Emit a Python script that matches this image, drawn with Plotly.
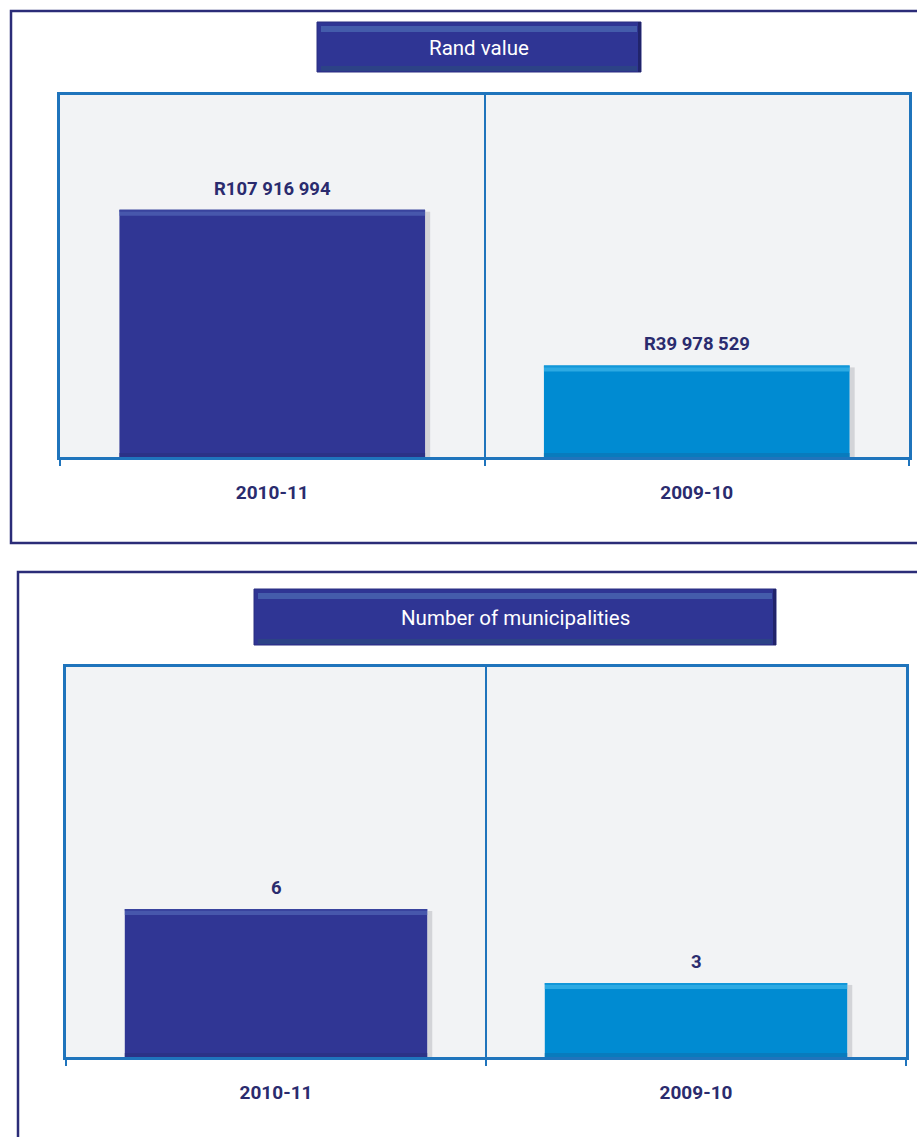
import plotly.graph_objects as go

# Data
years = ["2010-11", "2009-10"]
rand_values = [107916994, 39978529]
municipality_counts = [6, 3]
panel_titles = ["Rand value", "Number of municipalities"]
bar_colors = ["#303694", "#008bd2"]
bar_highlights = ["#4f63b4", "#3cb4e8"]
bar_lowlights = ["#2a3282", "#0a77b8"]

W, H = 917, 1137
NAVY_TEXT = "#2a2b6e"
AXIS_BLUE = "#1f74bc"
FRAME = "#2b2c78"
FONT = "Roboto, Liberation Sans, sans-serif"
BAR_WIDTH = 0.72


def fx(x):
    return x / W


def fy(y):
    return 1 - y / H


def rand_label(v):
    return "R" + f"{v:,}".replace(",", " ")


fig = go.Figure()

# per panel: axes, values, labels, plot-area box (px), y max, frame box, title plate box
panels = [
    dict(xa="x", ya="y", vals=rand_values, labels=[rand_label(v) for v in rand_values],
         area=(60, 95, 909, 457), ymax=158e6,
         frame=(11, 11, 930, 543), title=(317, 22, 641, 72)),
    dict(xa="x2", ya="y2", vals=municipality_counts, labels=[str(v) for v in municipality_counts],
         area=(66, 667, 906, 1057), ymax=15.8,
         frame=(18, 572, 930, 1150), title=(254, 589, 776, 645)),
]

shapes = []
annotations = []

for k, p in enumerate(panels):
    fig.add_trace(go.Bar(
        x=years, y=p["vals"], xaxis=p["xa"], yaxis=p["ya"],
        width=BAR_WIDTH, marker=dict(color=bar_colors, line=dict(width=0)),
        showlegend=False, hoverinfo="skip",
    ))

    x0, y0, x1, y1 = p["area"]
    plot_h = y1 - y0
    unit = p["ymax"] / plot_h  # data units per pixel

    # bevel + soft shadow on each bar
    for i, v in enumerate(p["vals"]):
        left, right = i - BAR_WIDTH / 2, i + BAR_WIDTH / 2
        shapes.append(dict(type="rect", xref=p["xa"], yref=p["ya"], layer="below",
                           x0=right, x1=right + 0.012, y0=0, y1=v - 2 * unit,
                           fillcolor="rgba(120,120,130,0.25)", line=dict(width=0)))
        shapes.append(dict(type="rect", xref=p["xa"], yref=p["ya"], layer="above",
                           x0=left, x1=right, y0=v - 6 * unit, y1=v,
                           fillcolor=bar_highlights[i], opacity=0.75, line=dict(width=0)))
        shapes.append(dict(type="rect", xref=p["xa"], yref=p["ya"], layer="above",
                           x0=left, x1=right, y0=v - 2 * unit, y1=v,
                           fillcolor=bar_colors[i], opacity=0.6, line=dict(width=0)))
        shapes.append(dict(type="rect", xref=p["xa"], yref=p["ya"], layer="above",
                           x0=left, x1=right, y0=0, y1=4 * unit,
                           fillcolor=bar_lowlights[i], opacity=0.8, line=dict(width=0)))
        annotations.append(dict(
            x=years[i], y=v, xref=p["xa"], yref=p["ya"], text=p["labels"][i],
            showarrow=False, yanchor="bottom", yshift=8,
            font=dict(family=FONT, size=18.5, color=NAVY_TEXT, weight="bold"),
        ))

    # outer frame
    fx0, fy0, fx1, fy1 = p["frame"]
    shapes.append(dict(type="rect", xref="paper", yref="paper",
                       x0=fx(fx0), x1=fx(fx1), y0=fy(fy1), y1=fy(fy0),
                       line=dict(color=FRAME, width=2.5), fillcolor="rgba(0,0,0,0)", layer="below"))

    # title plate
    tx0, ty0, tx1, ty1 = p["title"]
    shapes.append(dict(type="rect", xref="paper", yref="paper",
                       x0=fx(tx0), x1=fx(tx1), y0=fy(ty1), y1=fy(ty0),
                       fillcolor="#2f3594", line=dict(color="#2a2f80", width=1), layer="above"))
    shapes.append(dict(type="rect", xref="paper", yref="paper",
                       x0=fx(tx0 + 4), x1=fx(tx1 - 4), y0=fy(ty0 + 10), y1=fy(ty0 + 4),
                       fillcolor="#4a66b0", opacity=0.8, line=dict(width=0), layer="above"))
    shapes.append(dict(type="rect", xref="paper", yref="paper",
                       x0=fx(tx0 + 4), x1=fx(tx1 - 4), y0=fy(ty1 - 1), y1=fy(ty1 - 6),
                       fillcolor="#2c4682", opacity=0.8, line=dict(width=0), layer="above"))
    shapes.append(dict(type="rect", xref="paper", yref="paper",
                       x0=fx(tx1 - 3), x1=fx(tx1), y0=fy(ty1), y1=fy(ty0),
                       fillcolor="#1e2160", opacity=0.8, line=dict(width=0), layer="above"))
    annotations.append(dict(
        x=fx((tx0 + tx1) / 2), y=fy((ty0 + ty1) / 2 + 1), xref="paper", yref="paper",
        text=panel_titles[k], showarrow=False, xanchor="center", yanchor="middle",
        font=dict(family=FONT, size=20.5, color="white"),
    ))

    suffix = "" if k == 0 else "2"
    fig.layout["xaxis" + suffix] = dict(
        domain=[fx(x0), fx(x1)], anchor=p["ya"], type="category",
        range=[-0.5, 1.5], tickson="boundaries",
        showgrid=True, gridcolor=AXIS_BLUE, gridwidth=2,
        showline=True, linecolor=AXIS_BLUE, linewidth=2.5, mirror=True,
        ticks="outside", ticklen=6, tickwidth=2, tickcolor=AXIS_BLUE,
        ticklabelstandoff=16,
        tickfont=dict(family=FONT, size=19, color=NAVY_TEXT, weight="bold"),
        fixedrange=True,
    )
    fig.layout["yaxis" + suffix] = dict(
        domain=[fy(y1), fy(y0)], anchor=p["xa"], range=[0, p["ymax"]],
        showgrid=False, zeroline=False, showticklabels=False,
        showline=True, linecolor=AXIS_BLUE, linewidth=2.5, mirror=True,
        fixedrange=True,
    )

fig.update_layout(
    width=W, height=H, margin=dict(l=0, r=0, t=0, b=0),
    paper_bgcolor="white", plot_bgcolor="#f2f3f5",
    bargap=0.28, shapes=shapes, annotations=annotations,
    showlegend=False,
)

fig.write_html("out.html")
